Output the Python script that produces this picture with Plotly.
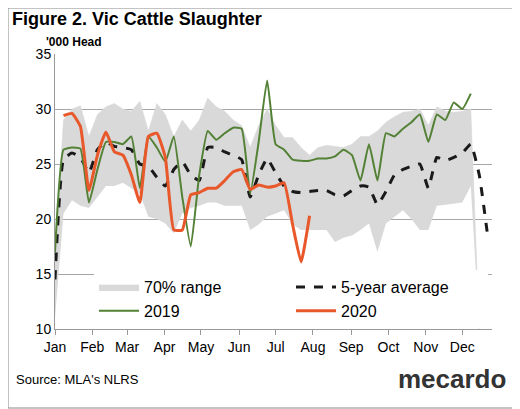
import plotly.graph_objects as go

weeks = list(range(1, 53))
month_labels = ["Jan","Feb","Mar","Apr","May","Jun","Jul","Aug","Sep","Oct","Nov","Dec"]
month_pos = [1, 5.4, 9.5, 13.9, 18.2, 22.7, 27, 31.4, 35.9, 40.3, 44.7, 49]

band_upper = [17,29,30,30.3,27.5,29.5,30.2,30.5,30,29.8,30.7,28,30.5,29.5,27.5,29,28,29,31,30.2,
              29.8,29,28.5,26.5,28.5,30,28.5,27.4,27.4,26.5,25.8,26.5,26.7,26.6,26.5,26.8,27.5,27.5,28,28.8,
              29.3,29.7,29.8,30,28.5,30.2,29.8,29.7,29.8,30,10]
band_lower = [11,20.5,21.7,21.2,21,22,23,23,23.3,22.8,22.3,20.2,20,19.6,18.7,20.5,21,21.2,21.5,21.5,
              21.2,21.2,21.2,19,19.5,20.2,20.5,20.8,19.5,19,19,19,19,17.9,18.3,18.5,19,19.6,17,19.6,
              20.2,20.8,20,19,19,21.2,21.3,21.4,21.5,23,10]
avg5 = [14.5,25.4,26,25.6,24.2,26.3,27,26.6,26.5,26.3,25,24.8,23.8,23,24.5,25.2,24,23.5,26.5,26.5,
        26.1,25.8,25.4,22,24,25.5,24.2,23,22.5,22.4,22.5,22.6,22.6,22.2,22.1,22.6,23,22.9,21.3,22.5,
        24,24.5,24.8,25,22.8,25.6,25.3,25.6,26,26.8,24,18.4]
y2019 = [17,26.3,26.5,26.4,21.5,24.5,27,27,26.8,27.5,22.8,27.5,26.5,25.2,27.5,22,17.5,24,28,27.2,
         27.8,28.3,28.2,22.3,27,32.6,26.8,26.3,25.4,25.3,25.3,25.5,25.5,25.7,26.3,25.8,23.5,26.8,23.5,27.8,
         27.5,28.2,28.8,29.5,27,29.5,29,30.6,30,31.4]
y2020 = [None,29.4,29.6,28.4,22.6,25.8,27.9,26.1,25.8,24,21.5,27.5,27.8,25.6,19,19,22.2,22.4,22.8,22.8,
         23.5,24.3,24.5,22.7,23.1,22.9,23.0,23.3,19.5,16.1,20.3]

font = "Liberation Sans, Arial, sans-serif"
OFF = 8
W, H = 520 - OFF, 409 - OFF
L, T = 55 - OFF, 54 - OFF
R = W - (492 - OFF)
B = H - (329 - OFF)
pw, ph = W - L - R, H - T - B
def px(x): return (x - OFF - L) / pw
def py(y): return (H - B - (y - OFF)) / ph

fig = go.Figure()
bw = weeks[:len(band_lower)]
fig.add_trace(go.Scatter(x=bw, y=band_lower, mode="lines", line=dict(width=0, color="#d9d9d9"),
                         showlegend=False, hoverinfo="skip"))
fig.add_trace(go.Scatter(x=bw, y=band_upper, mode="lines", fill="tonexty", fillcolor="#d9d9d9",
                         line=dict(width=0.5, color="#d9d9d9"), name="70% range"))
fig.add_trace(go.Scatter(x=weeks[:len(avg5)], y=avg5, mode="lines", name="5-year average",
                         line=dict(color="#1a1a1a", width=3, dash="dash", shape="spline", smoothing=0.4)))
fig.add_trace(go.Scatter(x=weeks[:len(y2019)], y=y2019, mode="lines", name="2019",
                         line=dict(color="#538135", width=2, shape="spline", smoothing=0.4)))
fig.add_trace(go.Scatter(x=weeks[:len(y2020)], y=y2020, mode="lines", name="2020",
                         line=dict(color="#e8582a", width=3, shape="spline", smoothing=0.4)))

fig.update_layout(
    width=W, height=H, paper_bgcolor="white", plot_bgcolor="white",
    margin=dict(l=L, r=R, t=T, b=B, autoexpand=False),
    font=dict(family=font, size=14, color="black"),
    showlegend=True,
    legend=dict(orientation="h", x=px(94), y=py(270), xanchor="left", yanchor="top",
                entrywidth=142, bgcolor="white", font=dict(size=16), tracegroupgap=0,
                traceorder="normal", itemwidth=40),
    xaxis=dict(range=[1, 52.5], tickmode="array", tickvals=month_pos, ticktext=month_labels,
               showgrid=False, showline=True, linecolor="#999999", ticks="outside",
               tickcolor="#999999", ticklen=5, zeroline=False, tickfont=dict(size=14)),
    yaxis=dict(range=[10, 35], dtick=5, showgrid=True, gridcolor="#a6a6a6", gridwidth=1,
               showline=True, linecolor="#999999", zeroline=False, tickfont=dict(size=14)),
    annotations=[
        dict(text="<b>Figure 2. Vic Cattle Slaughter</b>", x=px(10), y=py(7), xref="paper", yref="paper",
             showarrow=False, xanchor="left", yanchor="top", font=dict(size=18)),
        dict(text="<b>'000 Head</b>", x=px(44), y=py(33), xref="paper", yref="paper", showarrow=False,
             xanchor="left", yanchor="top", font=dict(size=12)),
        dict(text="Source: MLA's NLRS", x=px(14), y=py(370), xref="paper", yref="paper", showarrow=False,
             xanchor="left", yanchor="top", font=dict(size=13)),
        dict(text="<b>mecardo</b>", x=px(508), y=py(362), xref="paper", yref="paper", showarrow=False,
             xanchor="right", yanchor="top", font=dict(size=26, color="#333333")),
    ],
    shapes=[dict(type="rect", xref="paper", yref="paper", x0=px(OFF), x1=px(519), y0=py(408), y1=py(OFF),
                 line=dict(color="#888888", width=1))],
)
fig.write_html("out.html")
